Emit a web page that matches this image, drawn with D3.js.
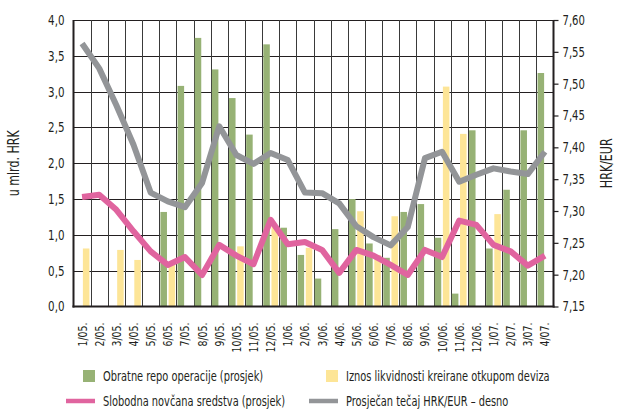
<!DOCTYPE html>
<html>
<head>
<meta charset="utf-8">
<script src="https://cdn.jsdelivr.net/npm/d3@7"></script>
<style>
  body { margin: 0; background: #fff; }
  text { font-family: "Liberation Sans Narrow", "DejaVu Sans Condensed", "Roboto", sans-serif; font-stretch: condensed; fill: #231f20; }
</style>
</head>
<body>
<svg id="chart" width="617" height="410"></svg>
<script>
// categories (weeks / months)
var categories = ["1/05.", "2/05.", "3/05.", "4/05.", "5/05.", "6/05.", "7/05.", "8/05.", "9/05.", "10/05.", "11/05.", "12/05.",
    "1/06.", "2/06.", "3/06.", "4/06.", "5/06.", "6/06.", "7/06.", "8/06.", "9/06.", "10/06.", "11/06.", "12/06.",
    "1/07.", "2/07.", "3/07.", "4/07."];

// Obratne repo operacije (prosjek), mlrd HRK
var repo = [null, null, null, null, null, 1.32, 3.08, 3.75, 3.31, 2.91, 2.40, 3.66,
    1.10, 0.72, 0.39, 1.08, 1.50, 0.88, 0.68, 1.32, 1.43, 0.96, 0.18, 2.46,
    0.81, 1.63, 2.46, 3.26];

// Iznos likvidnosti kreirane otkupom deviza, mlrd HRK
var otkup = [0.81, null, 0.79, 0.65, null, 0.60, null, null, null, 0.84, null, 1.12,
    null, 0.82, null, null, 1.33, 0.72, 1.26, null, null, 3.07, 2.41, null,
    1.29, null, null, null];

// Slobodna novcana sredstva (prosjek), mlrd HRK
var slobodna = [1.53, 1.56, 1.35, 1.05, 0.77, 0.58, 0.69, 0.44, 0.86, 0.71, 0.59, 1.21,
    0.87, 0.90, 0.79, 0.47, 0.79, 0.71, 0.58, 0.44, 0.79, 0.69, 1.20, 1.14,
    0.86, 0.77, 0.57, 0.71];

// Prosjecan tecaj HRK/EUR - desno
var tecaj = [7.563, 7.524, 7.466, 7.404, 7.329, 7.315, 7.306, 7.344, 7.433, 7.388, 7.374, 7.391,
    7.380, 7.329, 7.328, 7.312, 7.276, 7.259, 7.246, 7.275, 7.383, 7.393, 7.346, 7.357,
    7.367, 7.362, 7.358, 7.393];

var leftTicks = [0, 0.5, 1, 1.5, 2, 2.5, 3, 3.5, 4];
var rightTicks = [7.15, 7.20, 7.25, 7.30, 7.35, 7.40, 7.45, 7.50, 7.55, 7.60];

var green = "#97b275", yellow = "#fde597", pink = "#e0649f", grey = "#939598";

var svg = d3.select("#chart");

var plot = { left: 73.5, right: 553.5, top: 20, bottom: 306.5 };

var x = d3.scaleBand()
    .domain(categories)
    .range([plot.left, plot.right])
    .padding(0);

var x1 = d3.scaleBand()
    .domain(["repo", "otkup"])
    .range([0, x.bandwidth()])
    .paddingInner(0.2)
    .paddingOuter(0.15);

var yL = d3.scaleLinear().domain([0, 4]).range([plot.bottom, plot.top]);
var yR = d3.scaleLinear().domain([7.15, 7.60]).range([plot.bottom, plot.top]);

var comma = function (f) { return function (d) { return d3.format(f)(d).replace(".", ","); }; };

// the original uses a very narrow typeface, squeeze ours horizontally
function squeeze(sel, k) {
    sel.each(function () {
        var w = this.getComputedTextLength();
        d3.select(this).attr("textLength", w * k).attr("lengthAdjust", "spacingAndGlyphs");
    });
}

// grid
var grid = svg.append("g");
grid.selectAll("line.h")
    .data(leftTicks.slice(1))
    .enter().append("line")
    .attr("x1", plot.left).attr("x2", plot.right)
    .attr("y1", function (d) { return Math.round(yL(d)) + 0.5; })
    .attr("y2", function (d) { return Math.round(yL(d)) + 0.5; })
    .attr("stroke", "#231f20").attr("stroke-width", 1);

grid.selectAll("line.v")
    .data(categories.slice(1))
    .enter().append("line")
    .attr("x1", function (d) { return Math.round(x(d)) + 0.5; })
    .attr("x2", function (d) { return Math.round(x(d)) + 0.5; })
    .attr("y1", plot.top).attr("y2", plot.bottom)
    .attr("stroke", "#3a3a3a").attr("stroke-width", 1);

// bars
svg.append("g").selectAll("rect")
    .data(categories.map(function (c, i) { return { c: c, v: repo[i] }; }).filter(function (d) { return d.v != null; }))
    .enter().append("rect")
    .attr("x", function (d) { return x(d.c) + x1("repo"); })
    .attr("width", x1.bandwidth())
    .attr("y", function (d) { return yL(d.v); })
    .attr("height", function (d) { return yL(0) - yL(d.v); })
    .attr("fill", green);

svg.append("g").selectAll("rect")
    .data(categories.map(function (c, i) { return { c: c, v: otkup[i] }; }).filter(function (d) { return d.v != null; }))
    .enter().append("rect")
    .attr("x", function (d) { return x(d.c) + x1("otkup"); })
    .attr("width", x1.bandwidth())
    .attr("y", function (d) { return yL(d.v); })
    .attr("height", function (d) { return yL(0) - yL(d.v); })
    .attr("fill", yellow);

// lines
var cx = function (d, i) { return x(categories[i]) + x.bandwidth() / 2; };

svg.append("path")
    .datum(tecaj)
    .attr("d", d3.line().x(cx).y(function (d) { return yR(d); }))
    .attr("fill", "none").attr("stroke", grey)
    .attr("stroke-width", 6).attr("stroke-linejoin", "round");

svg.append("path")
    .datum(slobodna)
    .attr("d", d3.line().x(cx).y(function (d) { return yL(d); }))
    .attr("fill", "none").attr("stroke", pink)
    .attr("stroke-width", 6).attr("stroke-linejoin", "round");

// axes
var leftAxis = svg.append("g")
    .attr("transform", "translate(" + plot.left + ",0)")
    .call(d3.axisLeft(yL).tickValues(leftTicks).tickFormat(comma(".1f")).tickSize(0).tickPadding(9));
leftAxis.select(".domain").remove();
leftAxis.selectAll("text").style("font-size", "14px").style("font-family", null).call(squeeze, 0.82);

var rightAxis = svg.append("g")
    .attr("transform", "translate(" + plot.right + ",0)")
    .call(d3.axisRight(yR).tickValues(rightTicks).tickFormat(comma(".2f")).tickSize(5).tickPadding(4));
rightAxis.select(".domain").remove();
rightAxis.selectAll("line").attr("stroke", "#231f20").attr("stroke-width", 1.2);
rightAxis.selectAll("text").style("font-size", "14px").style("font-family", null).call(squeeze, 0.8);

var bottomAxis = svg.append("g")
    .attr("transform", "translate(0," + plot.bottom + ")")
    .call(d3.axisBottom(x).tickSize(0).tickPadding(0));
bottomAxis.select(".domain").remove();
bottomAxis.selectAll("text")
    .style("font-size", "13px").style("font-family", null)
    .attr("text-anchor", "end")
    .attr("dy", "0.35em")
    .attr("transform", "translate(0,16) rotate(-90)")
    .attr("x", 0).attr("y", 0)
    .call(squeeze, 0.8);

// frame lines
svg.append("line").attr("x1", plot.left).attr("x2", plot.left).attr("y1", plot.top).attr("y2", plot.bottom + 1)
    .attr("stroke", "#231f20").attr("stroke-width", 2);
svg.append("line").attr("x1", plot.right).attr("x2", plot.right).attr("y1", plot.top).attr("y2", plot.bottom + 1)
    .attr("stroke", "#231f20").attr("stroke-width", 2);
svg.append("line").attr("x1", plot.left - 1).attr("x2", plot.right + 1).attr("y1", plot.bottom).attr("y2", plot.bottom)
    .attr("stroke", "#231f20").attr("stroke-width", 2);

// axis titles
svg.append("text")
    .attr("transform", "translate(19," + ((plot.top + plot.bottom) / 2) + ") rotate(-90)")
    .attr("text-anchor", "middle")
    .style("font-size", "15px")
    .text("u mlrd. HRK")
    .call(squeeze, 0.82);

svg.append("text")
    .attr("transform", "translate(612," + ((plot.top + plot.bottom) / 2) + ") rotate(-90)")
    .attr("text-anchor", "middle")
    .style("font-size", "15px")
    .text("HRK/EUR")
    .call(squeeze, 0.82);

// legend
var legend = svg.append("g").style("font-size", "14px");
var items = [
    { label: "Obratne repo operacije (prosjek)", type: "box", color: green, x: 83, y: 376 },
    { label: "Iznos likvidnosti kreirane otkupom deviza", type: "box", color: yellow, x: 326, y: 376 },
    { label: "Slobodna novčana sredstva (prosjek)", type: "line", color: pink, x: 66, y: 401 },
    { label: "Prosječan tečaj HRK/EUR – desno", type: "line", color: grey, x: 309, y: 401 }
];
items.forEach(function (it) {
    if (it.type === "box") {
        legend.append("rect").attr("x", it.x).attr("y", it.y - 6).attr("width", 12).attr("height", 12).attr("fill", it.color);
    } else {
        legend.append("line").attr("x1", it.x).attr("x2", it.x + 29).attr("y1", it.y).attr("y2", it.y)
            .attr("stroke", it.color).attr("stroke-width", 4.5);
    }
    legend.append("text").attr("x", it.type === "box" ? it.x + 20 : it.x + 37).attr("y", it.y).attr("dy", "0.35em")
        .text(it.label).call(squeeze, 0.78);
});
</script>
</body>
</html>
